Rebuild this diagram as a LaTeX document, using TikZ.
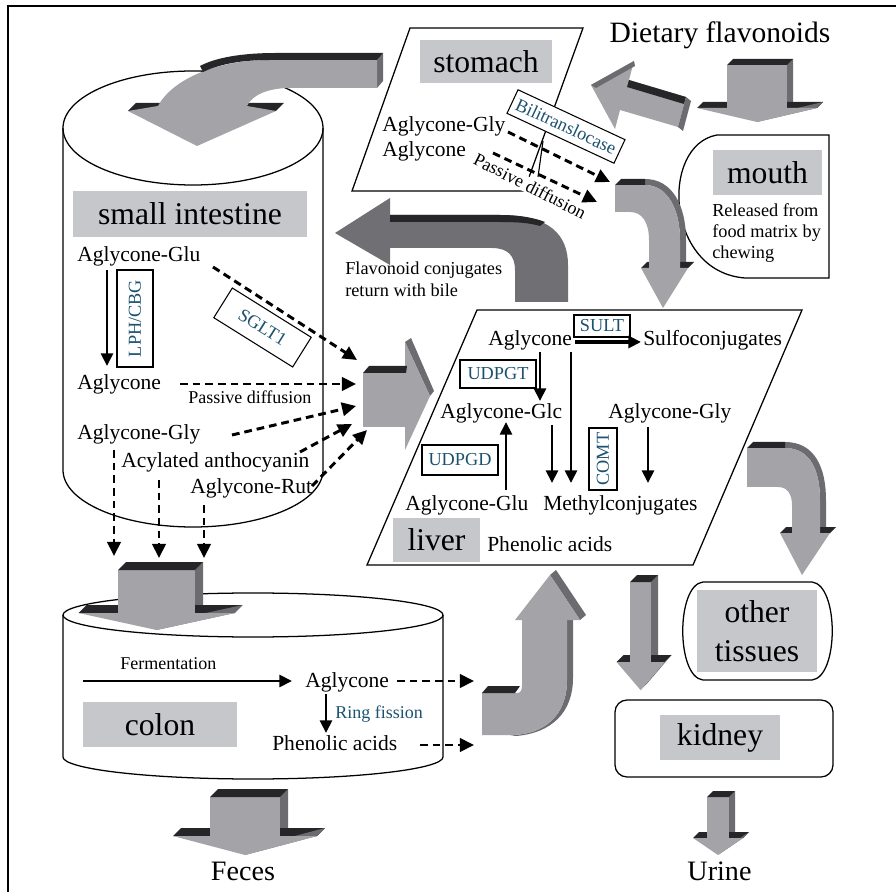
\documentclass[tikz,border=0pt]{standalone}
\usepackage{fontspec}
\setmainfont{Liberation Serif}
\usetikzlibrary{arrows.meta}
\definecolor{cFront}{RGB}{163,163,168}
\definecolor{cTop}{RGB}{38,38,40}
\definecolor{cSide}{RGB}{108,108,112}
\definecolor{cBile}{RGB}{112,112,116}
\definecolor{cLabel}{RGB}{198,199,203}
\definecolor{cEnz}{RGB}{28,82,112}
\tikzset{
  outl/.style={draw=black, line width=0.9pt},
  glbl/.style={fill=cLabel, inner sep=0pt, font=\fontsize{22.5}{27.7}\selectfont},
  tx/.style={inner sep=0pt, anchor=base west, font=\fontsize{15.3}{18}\selectfont},
  stx/.style={inner sep=0pt, anchor=base west, font=\fontsize{12.8}{15}\selectfont},
  enz/.style={draw=black, line width=0.75pt, text=cEnz, inner sep=0pt, font=\fontsize{13}{15}\selectfont},
  sarr/.style={line width=2.1pt, -{Triangle[length=9pt,width=8.5pt]}},
  darr/.style={line width=2.1pt, dash pattern=on 5.5pt off 3.5pt, -{Triangle[length=10pt,width=9.5pt]}},
}
% 3D block arrow pointing down: cx, top y, half shaft, wing y, half wing, tip y, depth
\newcommand{\dnarr}[7]{%
  \fill[cSide] ({#1+#3},{#2}) -- ({#1+#3+#7},{#2-#7}) -- ({#1+#3+#7},{#4-#7}) -- ({#1+#3},{#4}) -- cycle;
  \fill[cTop] ({#1-#5},{#4}) -- ({#1-#5+#7},{#4-#7}) -- ({#1+#5+#7},{#4-#7}) -- ({#1+#5},{#4}) -- cycle;
  \fill[cSide] ({#1+#5},{#4}) -- ({#1+#5+#7},{#4-#7}) -- ({#1+#7},{#6-#7}) -- ({#1},{#6}) -- cycle;
  \fill[cFront] ({#1-#3},{#2}) rectangle ({#1+#3},{#4});
  \fill[cTop] ({#1-#3},{#2}) -- ({#1-#3+#7},{#2-#7}) -- ({#1+#3+#7},{#2-#7}) -- ({#1+#3},{#2}) -- cycle;
  \fill[cFront] ({#1-#5},{#4}) -- ({#1+#5},{#4}) -- ({#1},{#6}) -- cycle;
}
\begin{document}
\begin{tikzpicture}[x=0.025cm,y=-0.025cm]
\useasboundingbox (0,0) rectangle (896,892);
% frame
\draw[line width=1pt] (8,892) -- (8,6) -- (896,6);

% ---------- containers ----------
\draw[outl] (63,128) -- (63,470) .. controls (63,501.5) and (121.2,527) .. (193,527) .. controls (264.8,527) and (323,501.5) .. (323,470) -- (323,128);
\draw[outl] (193,128) ellipse [x radius=130, y radius=57];
\draw[outl] (63,615) -- (63,757) .. controls (63,769) and (148,779) .. (253,779) .. controls (358,779) and (443,769) .. (443,757) -- (443,615);
\draw[outl] (253,615) ellipse [x radius=190, y radius=22];
\draw[outl] (410,28) -- (583,28) -- (524,191) -- (352,191) -- cycle;
\draw[outl] (477,310) -- (802,310) -- (693,565) -- (367,565) -- cycle;
\draw[outl] (829,135) -- (717,135) .. controls (660,145) and (665,272) .. (745,278) -- (829,278) -- cycle;
\draw[outl] (703,582) -- (812,582) .. controls (839,585) and (839,677) .. (812,680) -- (703,680) .. controls (676,677) and (676,585) .. (703,582) -- cycle;
\draw[outl, rounded corners=3mm] (615,700) rectangle (833,777);

% ---------- block arrows ----------
\dnarr{757}{65}{30}{108}{60}{122}{6}
\dnarr{156.5}{570}{38.5}{613}{78}{630}{8}
\dnarr{245}{797}{35}{836}{72}{855}{8}
\dnarr{640.5}{582}{10.5}{662}{24}{690}{7}
\dnarr{718}{797}{11}{838}{25}{855}{6}

% stomach -> small intestine (curved)
\fill[cTop] (128,111) -- (136,103) -- (162,103) -- (158,111) -- cycle;
\fill[cTop] (240,111) -- (246,103) -- (284,103) -- (276,111) -- cycle;
\fill[cSide] (377,60) -- (383,53) -- (383,81) -- (377,88) -- cycle;
\fill[cFront] (377,60) -- (270,60) .. controls (215,60) and (172,80) .. (158,106) -- (128,111) -- (197,146) -- (276,111) -- (247,106) .. controls (252,95) and (268,88) .. (290,88) -- (377,88) -- cycle;
\fill[cTop] (383,53) -- (276,53) .. controls (240,53) and (215,58) .. (200,66) -- (203,72) .. controls (222,63) and (245,60) .. (270,60) -- (377,60) -- cycle;

% mouth -> stomach (tilted)
\fill[cFront] (591,85) -- (634,61) -- (629,80) -- (686,97) -- (678,127) -- (620,110) -- (615,129) -- cycle;
\fill[cTop] (629,80) -- (686,97) -- (684,104) -- (627,87) -- cycle;
\fill[cSide] (686,97) -- (691,101) -- (683,131) -- (678,127) -- cycle;
\fill[cSide] (591,85) -- (634,61) -- (635,66) -- (596,88) -- cycle;

% stomach -> liver (curved down)
\fill[cSide] (645,185) .. controls (668,185) and (680,210) .. (680,240) -- (680,268) -- (686,263) -- (686,240) .. controls (686,205) and (672,179) .. (645,179) -- cycle;
\fill[cTop] (641,268) -- (647,262) -- (694,262) -- (688,268) -- cycle;
\fill[cFront] (615,185) -- (645,185) .. controls (668,185) and (680,210) .. (680,240) -- (680,268) -- (688,268) -- (663,308) -- (641,268) -- (649,268) -- (649,240) .. controls (649,222) and (642,212) .. (630,212) -- (615,212) -- cycle;
\fill[cTop] (615,185) -- (621,179) -- (645,179) -- (645,185) -- cycle;

% liver -> small intestine with bile
\fill[cBile] (335,233) -- (390,198) -- (390,215) -- (500,215) .. controls (550,215) and (568,235) .. (568,265) -- (568,302) -- (515,302) -- (515,270) .. controls (515,256) and (508,248) .. (492,248) -- (390,248) -- (390,265) -- cycle;
\fill[cTop] (390,215) -- (500,215) .. controls (520,215) and (535,218) .. (545,222) -- (540,226) .. controls (530,223) and (518,222) .. (500,222) -- (390,222) -- cycle;

% small intestine -> liver
\fill[cSide] (405,342) -- (411,338) -- (434,391) -- (430,396) -- cycle;
\fill[cFront] (405,342) -- (430,396) -- (405,450) -- cycle;
\fill[cFront] (363,373) rectangle (406,427);
\fill[cTop] (363,373) -- (369,366) -- (407,366) -- (406,373) -- cycle;

% liver -> other tissues
\fill[cSide] (785,448) .. controls (810,448) and (820,470) .. (820,500) -- (820,533) -- (826,527) -- (826,500) .. controls (826,468) and (815,442) .. (785,442) -- cycle;
\fill[cTop] (780,533) -- (786,527) -- (836,527) -- (830,533) -- cycle;
\fill[cFront] (747,448) -- (785,448) .. controls (810,448) and (820,470) .. (820,500) -- (820,533) -- (830,533) -- (802,575) -- (780,533) -- (792,533) -- (792,505) .. controls (792,495) and (788,487) .. (778,487) -- (747,487) -- cycle;
\fill[cTop] (747,448) -- (753,442) -- (785,442) -- (785,448) -- cycle;

% colon -> liver (up)
\fill[cSide] (550,575) -- (556,570) -- (586,615) -- (580,620) -- cycle;
\fill[cSide] (567,620) -- (573,615) -- (573,678) .. controls (573,712) and (552,733) .. (516,736) -- (510,735) .. controls (545,735) and (567,715) .. (567,680) -- cycle;
\fill[cFront] (482,693) -- (517,693) .. controls (521,693) and (522,690) .. (522,685) -- (522,620) -- (515,620) -- (550,575) -- (580,620) -- (567,620) -- (567,680) .. controls (567,715) and (545,735) .. (510,735) -- (482,735) -- cycle;
\fill[cTop] (482,693) -- (488,686) -- (520,686) -- (515,693) -- cycle;

% ---------- labels ----------
\node[glbl, minimum width=58.5mm, minimum height=11.5mm] (si) at (190,214) {small intestine};
\node[glbl, minimum width=33mm, minimum height=10.75mm] (stom) at (486,61.5) {stomach};
\node[glbl, minimum width=27.25mm, minimum height=11.25mm] (mouth) at (767.5,172.5) {mouth};
\node[glbl, minimum width=21.75mm, minimum height=11mm] (liver) at (436.5,540) {liver};
\node[glbl, minimum width=38.5mm, minimum height=11.25mm] (colon) at (160,724.5) {colon};
\node[glbl, minimum width=30mm, minimum height=20.5mm, align=center] (other) at (757,631) {other\\tissues};
\node[glbl, minimum width=30mm, minimum height=11.25mm] (kidney) at (720,737.5) {kidney};

\node[inner sep=0pt, anchor=base, font=\fontsize{21}{25}\selectfont] (diet) at (720,43) {Dietary flavonoids};
\node[inner sep=0pt, anchor=base, font=\fontsize{20}{24}\selectfont] (feces) at (243,880) {Feces};
\node[inner sep=0pt, anchor=base, font=\fontsize{20}{24}\selectfont] (urine) at (719.5,880) {Urine};

\node[stx, font=\fontsize{13}{15}\selectfont] (rel1) at (712,217) {Released from};
\node[stx, font=\fontsize{13}{15}\selectfont] (rel2) at (712,238) {food matrix by};
\node[stx, font=\fontsize{13}{15}\selectfont] (rel3) at (712,259) {chewing};

\node[tx] (stGly) at (382,132) {Aglycone-Gly};
\node[tx] (stAgl) at (382,157) {Aglycone};
\node[stx, anchor=center, fill=white, inner sep=1pt, rotate=-27] (stPD) at (530,186) {Passive diffusion};
\node[enz, fill=white, rotate=-25, minimum width=29.5mm, minimum height=6.5mm] (bili) at (566,126.5) {Bilitranslocase};

\node[stx, font=\fontsize{13}{15}\selectfont] (bile1) at (345,275) {Flavonoid conjugates};
\node[stx, font=\fontsize{13}{15}\selectfont] (bile2) at (345,297) {return with bile};

\node[tx] (siGlu) at (77,262) {Aglycone-Glu};
\node[tx] (siAgl) at (77,390) {Aglycone};
\node[tx] (siGly) at (77,440) {Aglycone-Gly};
\node[tx] (siAcy) at (121,468) {Acylated anthocyanin};
\node[tx] (siRut) at (190,494) {Aglycone-Rut};
\node[stx] (siPD) at (188,404) {Passive diffusion};
\node[enz, rotate=90, minimum width=24.25mm, minimum height=9mm] (lph) at (135,318.5) {LPH/CBG};
\node[enz, rotate=-32, minimum width=23.25mm, minimum height=8.75mm] (sglt) at (262.5,327.5) {SGLT1};

\node[tx] (lvAgl) at (488,346) {Aglycone};
\node[tx] (lvSulf) at (643,346) {Sulfoconjugates};
\node[tx] (lvGlc) at (440,419) {Aglycone-Glc};
\node[tx] (lvGly) at (608,419) {Aglycone-Gly};
\node[tx] (lvGlu) at (405,511) {Aglycone-Glu};
\node[tx] (lvMeth) at (543,511) {Methylconjugates};
\node[tx] (lvPhen) at (487,551) {Phenolic acids};
\node[enz, minimum width=14mm, minimum height=5.5mm] (sult) at (602,326) {SULT};
\node[enz, minimum width=19mm, minimum height=7mm] (udpgt) at (498,374) {UDPGT};
\node[enz, minimum width=19mm, minimum height=7.5mm] (udpgd) at (460,460) {UDPGD};
\node[enz, rotate=90, minimum width=15.5mm, minimum height=7mm] (comt) at (603,459) {COMT};

\node[stx] (ferm) at (120,669) {Fermentation};
\node[tx] (coAgl) at (305,687) {Aglycone};
\node[stx, text=cEnz] (ring) at (335,718) {Ring fission};
\node[tx] (coPhen) at (272,750) {Phenolic acids};

% ---------- connectors ----------
\coordinate (sa1) at (508,132); \coordinate (sb1) at (610,182);
\coordinate (sa2) at (493,153); \coordinate (sb2) at (597,202);
\draw[darr] (sa1) -- (sb1);
\draw[darr] (sa2) -- (sb2);
\coordinate (bl1) at (543,141); \coordinate (bl2) at (538,177);
\draw[line width=0.8pt] (bl1) -- (bl2);

\coordinate (i1a) at (107,270); \coordinate (i1b) at (107,366);
\draw[sarr] (i1a) -- (i1b);
\coordinate (g1a) at (213,267); \coordinate (g1b) at (357,360);
\coordinate (g2a) at (180,384); \coordinate (g2b) at (356,384);
\coordinate (g3a) at (232,435); \coordinate (g3b) at (356,406);
\coordinate (g4a) at (300,452); \coordinate (g4b) at (352,424);
\coordinate (g5a) at (312,486); \coordinate (g5b) at (367,430);
\draw[darr] (g1a) -- (g1b);
\draw[darr] (g2a) -- (g2b);
\draw[darr] (g3a) -- (g3b);
\draw[darr] (g4a) -- (g4b);
\draw[darr] (g5a) -- (g5b);
\coordinate (c1a) at (114,450); \coordinate (c1b) at (114,556);
\coordinate (c2a) at (159,480); \coordinate (c2b) at (159,558);
\coordinate (c3a) at (204,505); \coordinate (c3b) at (204,558);
\draw[darr] (c1a) -- (c1b);
\draw[darr] (c2a) -- (c2b);
\draw[darr] (c3a) -- (c3b);

\coordinate (l0a) at (575,342); \coordinate (l0b) at (641,342);
\draw[line width=2.6pt, -{Triangle[length=9pt,width=8.5pt]}] (l0a) -- (l0b);
\coordinate (l1a) at (540,352); \coordinate (l1b) at (540,401);
\coordinate (l2a) at (571,352); \coordinate (l2b) at (571,483);
\coordinate (l3a) at (552,425); \coordinate (l3b) at (552,483);
\coordinate (l4a) at (648,427); \coordinate (l4b) at (648,483);
\coordinate (l5a) at (506,490); \coordinate (l5b) at (506,422);
\draw[sarr] (l1a) -- (l1b);
\draw[sarr] (l2a) -- (l2b);
\draw[sarr] (l3a) -- (l3b);
\draw[sarr] (l4a) -- (l4b);
\draw[sarr] (l5a) -- (l5b);

\coordinate (f1a) at (83,681); \coordinate (f1b) at (292,681);
\coordinate (f2a) at (326,694); \coordinate (f2b) at (326,733);
\draw[sarr] (f1a) -- (f1b);
\draw[sarr] (f2a) -- (f2b);
\coordinate (f3a) at (397,681); \coordinate (f3b) at (474,681);
\coordinate (f4a) at (420,745); \coordinate (f4b) at (474,745);
\draw[darr] (f3a) -- (f3b);
\draw[darr] (f4a) -- (f4b);
\end{tikzpicture}
\end{document}
